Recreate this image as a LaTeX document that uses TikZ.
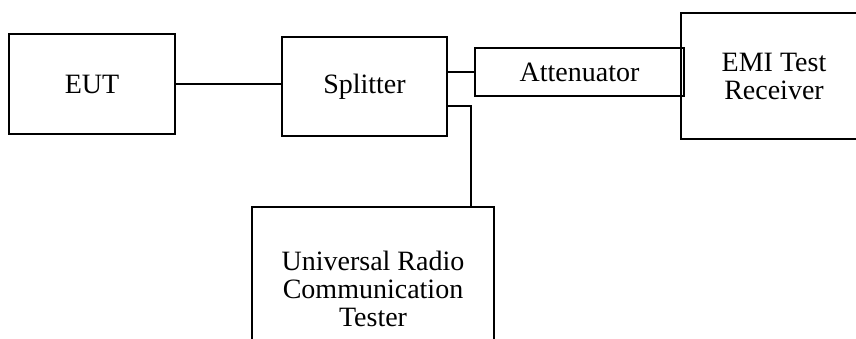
\documentclass[tikz,border=0pt]{standalone}
\usepackage{fontspec}
\setmainfont{Liberation Serif}
\usepackage{tikz}
\usetikzlibrary{calc}
\usetikzlibrary{positioning}
\tikzset{
  unit/.style={draw,line width=1.3pt,align=center,inner sep=0pt,
    font=\fontsize{28}{28}\selectfont},
  cable/.style={line width=1.3pt}
}
\newcommand\unitbox[5]{
  \node[unit,minimum width=#3,minimum height=#4] (#1) at #2 {#5};
}

\begin{document}
\begin{tikzpicture}[x=1pt,y=-1pt]
  %
  \useasboundingbox (0,0) rectangle (856,339);
  \clip (0,0) rectangle (856,339);

  \unitbox{eut}{(92,84)}{166pt}{100pt}{EUT}
  \unitbox{spl}{(364.5,86.5)}{165pt}{99pt}{Splitter}
  \unitbox{att}{(579.5,72)}{209pt}{48pt}{Attenuator}
  \unitbox{emi}{(774,76)}{186pt}{126pt}{EMI Test\\Receiver}
  \unitbox{urt}{(373,289)}{242pt}{164pt}{Universal Radio\\Communication\\Tester}

  \draw[cable] (eut.east) -- (eut.east -| spl.west);
  \draw[cable] (spl.east |- att.west) -- (att.west);
  \draw[cable] ([yshift=-19.5pt]spl.east) -| ([xshift=98pt]urt.north);

\end{tikzpicture}
\end{document}
